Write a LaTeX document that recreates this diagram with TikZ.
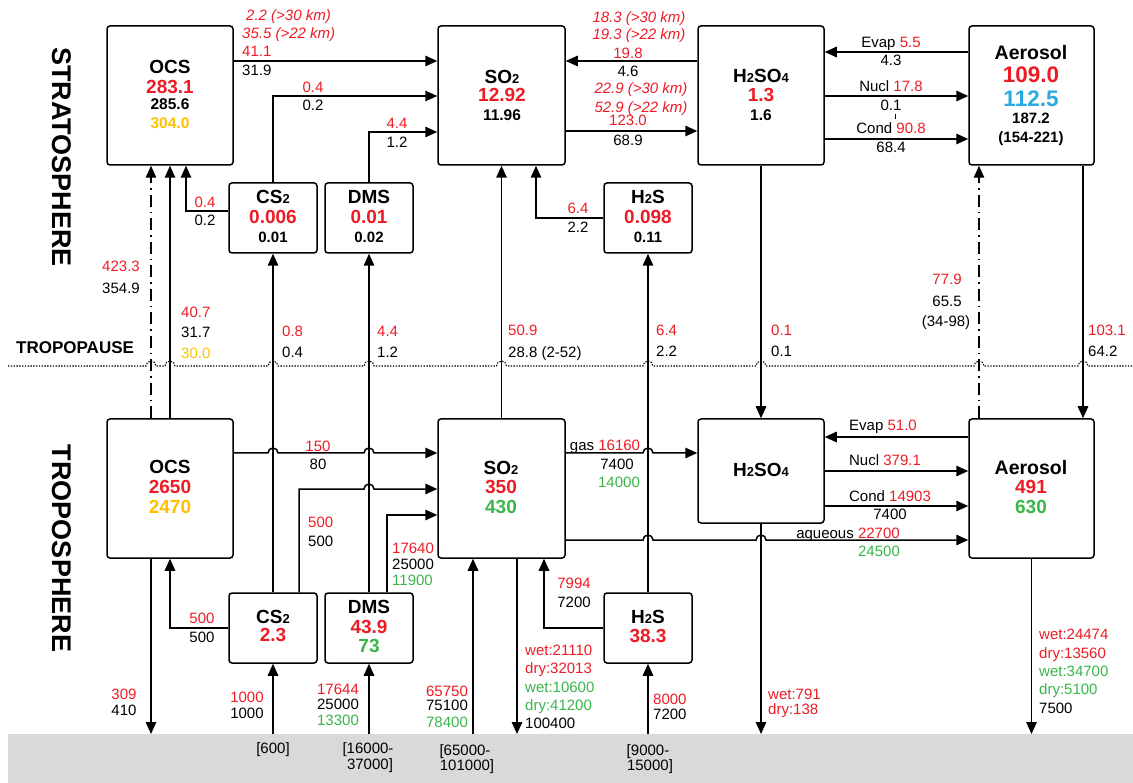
\documentclass[tikz,border=0pt]{standalone}
\usepackage{fontspec}
\setmainfont{Liberation Sans}
\usetikzlibrary{arrows.meta}
\definecolor{cR}{RGB}{237,28,36}
\definecolor{cG}{RGB}{57,181,74}
\definecolor{cO}{RGB}{255,192,0}
\definecolor{cB}{RGB}{41,171,226}
\definecolor{cGr}{RGB}{217,217,217}
\newcounter{nc}
\newcommand\Lb[5][]{\stepcounter{nc}\node[anchor=base,inner sep=0pt,font=\fontsize{#4}{#4}\selectfont,#1] (n\arabic{nc}) at ({#2},{#3+0.358*#4}) {#5};}
\newcommand\sbx[1]{{\fontsize{13}{13}\selectfont #1}}
\tikzset{
  box/.style={draw, line width=1.5pt, rounded corners=3pt, inner sep=0pt},
  arr/.style={line width=1.5pt, -{Triangle[length=12pt,width=10.5pt]}},
  dashdot/.style={line width=1.3pt, dash pattern=on 12pt off 5pt on 1.5pt off 5pt},
  trop/.style={line width=1.1pt, dash pattern=on 1.4pt off 1.4pt},
}
\begin{document}
\begin{tikzpicture}[x=1pt,y=-1pt]
\path[use as bounding box] (0,0) rectangle (1133,783);
% ground
\node[fill=cGr, minimum width=1125pt, minimum height=49pt, inner sep=0pt, anchor=north west] (gnd) at (8,734) {};
% tropopause
\draw[trop] (8,366) -- (146,366) arc[start angle=180,end angle=360,radius=5]
  -- (165,366) arc[start angle=180,end angle=360,radius=5]
  -- (268,366) arc[start angle=180,end angle=360,radius=5]
  -- (364,366) arc[start angle=180,end angle=360,radius=5]
  -- (496.5,366) arc[start angle=180,end angle=360,radius=5]
  -- (643,366) arc[start angle=180,end angle=360,radius=5]
  -- (756,366) arc[start angle=180,end angle=360,radius=5]
  -- (974,366) arc[start angle=180,end angle=360,radius=5]
  -- (1078,366) arc[start angle=180,end angle=360,radius=5]
  -- (1133,366);
% boxes stratosphere
\node[box, minimum width=126pt, minimum height=139pt] (ocsS) at (170,95.5) {};
\node[box, minimum width=127pt, minimum height=139pt] (so2S) at (501.5,95.5) {};
\node[box, minimum width=126pt, minimum height=139pt] (h2so4S) at (761,95.5) {};
\node[box, minimum width=125pt, minimum height=139pt] (aerS) at (1031.5,95.5) {};
\node[box, minimum width=88pt, minimum height=70pt] (cs2S) at (273,218) {};
\node[box, minimum width=88pt, minimum height=70pt] (dmsS) at (369,218) {};
\node[box, minimum width=88pt, minimum height=70pt] (h2sS) at (648,218) {};
% boxes troposphere
\node[box, minimum width=126pt, minimum height=139pt] (ocsT) at (170,488.5) {};
\node[box, minimum width=127pt, minimum height=139pt] (so2T) at (501.5,488.5) {};
\node[box, minimum width=126pt, minimum height=104pt] (h2so4T) at (761,471) {};
\node[box, minimum width=125pt, minimum height=139pt] (aerT) at (1031.5,488.5) {};
\node[box, minimum width=88pt, minimum height=70pt] (cs2T) at (273,628) {};
\node[box, minimum width=88pt, minimum height=70pt] (dmsT) at (369,628) {};
\node[box, minimum width=88pt, minimum height=70pt] (h2sT) at (648,628) {};
% stratosphere connectors
\draw[arr] (ocsS.east |- 0,61) -- (so2S.west |- 0,61);
\draw[arr] (cs2S.north) |- (so2S.west |- 0,96);
\draw[arr] (dmsS.north) |- (so2S.west |- 0,132);
\draw[arr] (cs2S.west |- 0,211) -| (ocsS.south -| 186,0);
\draw[arr] (h2so4S.west |- 0,61) -- (so2S.east |- 0,61);
\draw[arr] (so2S.east |- 0,131) -- (h2so4S.west |- 0,131);
\draw[arr] (h2sS.west |- 0,218) -| (so2S.south -| 536,0);
\draw[arr] (aerS.west |- 0,52) -- (h2so4S.east |- 0,52);
\draw[arr] (h2so4S.east |- 0,96) -- (aerS.west |- 0,96);
\draw[arr] (h2so4S.east |- 0,139) -- (aerS.west |- 0,139);
\draw[line width=0.6pt] (895,114) -- (895,119);
% cross-tropopause connectors
\draw[arr,dashdot] (ocsT.north -| 151,0) -- (ocsS.south -| 151,0);
\draw[arr] (ocsT.north) -- (ocsS.south);
\draw[arr] (cs2T.north) -- (cs2S.south);
\draw[arr] (dmsT.north) -- (dmsS.south);
\draw[arr] (so2T.north) -- (so2S.south);
\draw[arr] (h2sT.north) -- (h2sS.south);
\draw[arr] (h2so4S.south) -- (h2so4T.north);
\draw[arr,dashdot] (aerT.north -| 979,0) -- (aerS.south -| 979,0);
\draw[arr] (aerS.south -| 1083,0) -- (aerT.north -| 1083,0);
% troposphere connectors
\draw[arr] (ocsT.east |- 0,453) -- (268,453) arc[start angle=180,end angle=360,radius=5]
  -- (364,453) arc[start angle=180,end angle=360,radius=5] -- (so2T.west |- 0,453);
\draw[arr] (cs2T.north -| 299,0) |- (364,489) arc[start angle=180,end angle=360,radius=5] -- (so2T.west |- 0,489);
\draw[arr] (dmsT.north -| 387,0) |- (so2T.west |- 0,515);
\draw[arr] (cs2T.west |- 0,628) -| (ocsT.south);
\draw[arr] (ocsT.south -| 151,0) -- (gnd.north -| 151,0);
\draw[arr] (gnd.north -| cs2T.south) -- (cs2T.south);
\draw[arr] (gnd.north -| dmsT.south) -- (dmsT.south);
\draw[arr] (gnd.north -| 473,0) -- (so2T.south -| 473,0);
\draw[arr] (so2T.south -| 517,0) -- (gnd.north -| 517,0);
\draw[arr] (h2sT.west |- 0,628) -| (so2T.south -| 544,0);
\draw[arr] (gnd.north -| h2sT.south) -- (h2sT.south);
\draw[arr] (so2T.east |- 0,453) -- (643,453) arc[start angle=180,end angle=360,radius=5] -- (h2so4T.west |- 0,453);
\draw[arr] (so2T.east |- 0,540) -- (643,540) arc[start angle=180,end angle=360,radius=5]
  -- (756,540) arc[start angle=180,end angle=360,radius=5] -- (aerT.west |- 0,540);
\draw[arr] (aerT.west |- 0,437) -- (h2so4T.east |- 0,437);
\draw[arr] (h2so4T.east |- 0,471) -- (aerT.west |- 0,471);
\draw[arr] (h2so4T.east |- 0,506) -- (aerT.west |- 0,506);
\draw[arr] (h2so4T.south) -- (gnd.north -| h2so4T.south);
\draw[arr] (aerT.south) -- (gnd.north -| aerT.south);
% side titles
\node[rotate=-90, font=\bfseries\fontsize{27}{27}\selectfont, inner sep=0pt] (strat) at (62,157) {STRATOSPHERE};
\node[rotate=-90, font=\bfseries\fontsize{27}{27}\selectfont, inner sep=0pt] (tropo) at (62,548.5) {TROPOSPHERE};
\Lb[anchor=base west]{16}{347}{17}{\bfseries TROPOPAUSE}
% box texts stratosphere
\Lb{170}{67}{19}{\bfseries OCS}
\Lb[cR]{170}{87}{19}{\bfseries 283.1}
\Lb{170}{104}{15.5}{\bfseries 285.6}
\Lb[cO]{170}{123}{15.5}{\bfseries 304.0}
\Lb{502}{77}{19}{\bfseries SO\sbx{2}}
\Lb[cR]{502}{95}{19}{\bfseries 12.92}
\Lb{502}{115}{15.5}{\bfseries 11.96}
\Lb{761}{76}{19}{\bfseries H\sbx{2}SO\sbx{4}}
\Lb[cR]{761}{95}{19}{\bfseries 1.3}
\Lb{761}{115}{15.5}{\bfseries 1.6}
\Lb{1031}{53}{19.5}{\bfseries Aerosol}
\Lb[cR]{1031}{74}{22.5}{\bfseries 109.0}
\Lb[cB]{1031}{98}{22.5}{\bfseries 112.5}
\Lb{1031}{118}{15}{\bfseries 187.2}
\Lb{1031}{137}{15}{\bfseries (154-221)}
\Lb{273}{197}{19}{\bfseries CS\sbx{2}}
\Lb[cR]{273}{217}{19}{\bfseries 0.006}
\Lb{273}{237}{15}{\bfseries 0.01}
\Lb{369}{197}{19}{\bfseries DMS}
\Lb[cR]{369}{217}{19}{\bfseries 0.01}
\Lb{369}{237}{15}{\bfseries 0.02}
\Lb{648}{197}{19}{\bfseries H\sbx{2}S}
\Lb[cR]{648}{217}{19}{\bfseries 0.098}
\Lb{648}{237}{15}{\bfseries 0.11}
% box texts troposphere
\Lb{170}{467}{19}{\bfseries OCS}
\Lb[cR]{170}{487}{19}{\bfseries 2650}
\Lb[cO]{170}{507}{19}{\bfseries 2470}
\Lb{501}{468}{19}{\bfseries SO\sbx{2}}
\Lb[cR]{501}{487}{19}{\bfseries 350}
\Lb[cG]{501}{507}{19}{\bfseries 430}
\Lb{761}{470}{19}{\bfseries H\sbx{2}SO\sbx{4}}
\Lb{1031}{468}{19.5}{\bfseries Aerosol}
\Lb[cR]{1031}{487}{19}{\bfseries 491}
\Lb[cG]{1031}{507}{19}{\bfseries 630}
\Lb{273}{617}{19}{\bfseries CS\sbx{2}}
\Lb[cR]{273}{635}{19}{\bfseries 2.3}
\Lb{369}{607}{19}{\bfseries DMS}
\Lb[cR]{369}{627}{19}{\bfseries 43.9}
\Lb[cG]{369}{646}{19}{\bfseries 73}
\Lb{648}{617}{19}{\bfseries H\sbx{2}S}
\Lb[cR]{648}{636}{19}{\bfseries 38.3}
% stratosphere labels
\Lb[anchor=base west,cR]{246}{15}{15}{\itshape 2.2 (>30 km)}
\Lb[anchor=base west,cR]{242}{33}{15}{\itshape 35.5 (>22 km)}
\Lb[anchor=base west,cR]{242}{51}{15}{41.1}
\Lb[anchor=base west]{242}{70}{15}{31.9}
\Lb[cR]{313}{87}{15}{0.4}
\Lb{313}{105}{15}{0.2}
\Lb[cR]{397}{123}{15}{4.4}
\Lb{397}{142}{15}{1.2}
\Lb[cR]{205}{202}{15}{0.4}
\Lb{205}{220}{15}{0.2}
\Lb[cR]{639}{17}{15}{\itshape 18.3 (>30 km)}
\Lb[cR]{639}{34}{15}{\itshape 19.3 (>22 km)}
\Lb[cR]{628}{53}{15}{19.8}
\Lb{628}{71}{15}{4.6}
\Lb[cR]{641}{88}{15}{\itshape 22.9 (>30 km)}
\Lb[cR]{641}{107}{15}{\itshape 52.9 (>22 km)}
\Lb[cR]{628}{120}{15}{123.0}
\Lb{628}{140}{15}{68.9}
\Lb[cR]{578}{208}{15}{6.4}
\Lb{578}{227}{15}{2.2}
\Lb{891}{42}{15}{Evap \textcolor{cR}{5.5}}
\Lb{891}{60}{15}{4.3}
\Lb{891}{86}{15}{Nucl \textcolor{cR}{17.8}}
\Lb{891}{105}{15}{0.1}
\Lb{891}{128}{15}{Cond \textcolor{cR}{90.8}}
\Lb{891}{147}{15}{68.4}
% cross-tropopause labels
\Lb[cR]{121}{266}{15}{423.3}
\Lb{121}{288}{15}{354.9}
\Lb[anchor=base west,cR]{181}{312}{15}{40.7}
\Lb[anchor=base west]{181}{332}{15}{31.7}
\Lb[anchor=base west,cO]{181}{353}{15}{30.0}
\Lb[anchor=base west,cR]{282}{331}{15}{0.8}
\Lb[anchor=base west]{282}{352}{15}{0.4}
\Lb[anchor=base west,cR]{377}{331}{15}{4.4}
\Lb[anchor=base west]{377}{352}{15}{1.2}
\Lb[anchor=base west,cR]{508}{330}{15}{50.9}
\Lb[anchor=base west]{508}{352}{15}{28.8 (2-52)}
\Lb[anchor=base west,cR]{656}{330}{15}{6.4}
\Lb[anchor=base west]{656}{351}{15}{2.2}
\Lb[anchor=base west,cR]{771}{330}{15}{0.1}
\Lb[anchor=base west]{771}{351}{15}{0.1}
\Lb[cR]{947}{279}{15}{77.9}
\Lb{947}{301}{15}{65.5}
\Lb{946}{321}{15}{(34-98)}
\Lb[anchor=base west,cR]{1088}{330}{15}{103.1}
\Lb[anchor=base west]{1088}{351}{15}{64.2}
% troposphere labels
\Lb[cR]{318}{446}{15}{150}
\Lb{318}{464}{15}{80}
\Lb[anchor=base west,cR]{308}{522}{15}{500}
\Lb[anchor=base west]{308}{541}{15}{500}
\Lb[anchor=base west,cR]{392}{548}{15}{17640}
\Lb[anchor=base west]{392}{564}{15}{25000}
\Lb[anchor=base west,cG]{392}{580}{15}{11900}
\Lb[cR]{202}{618}{15}{500}
\Lb{202}{637}{15}{500}
\Lb[cR]{247}{697}{15}{1000}
\Lb{247}{713}{15}{1000}
\Lb[cR]{338}{689}{15}{17644}
\Lb{338}{704}{15}{25000}
\Lb[cG]{338}{720}{15}{13300}
\Lb[cR]{447}{691}{15}{65750}
\Lb{447}{705}{15}{75100}
\Lb[cG]{447}{722}{15}{78400}
\Lb[anchor=base west,cR]{525}{650}{15}{wet:21110}
\Lb[anchor=base west,cR]{525}{668}{15}{dry:32013}
\Lb[anchor=base west,cG]{525}{687}{15}{wet:10600}
\Lb[anchor=base west,cG]{525}{705}{15}{dry:41200}
\Lb[anchor=base west]{525}{723}{15}{100400}
\Lb[cR]{574}{583}{15}{7994}
\Lb{574}{602}{15}{7200}
\Lb[anchor=base west,cR]{653}{699}{15}{8000}
\Lb[anchor=base west]{653}{714}{15}{7200}
\Lb[cR]{124}{694}{15}{309}
\Lb{124}{710}{15}{410}
\Lb{605}{445}{15}{gas \textcolor{cR}{16160}}
\Lb{617}{464}{15}{7400}
\Lb[cG]{619}{482}{15}{14000}
\Lb{883}{425}{15}{Evap \textcolor{cR}{51.0}}
\Lb{885}{460}{15}{Nucl \textcolor{cR}{379.1}}
\Lb{890}{496}{15}{Cond \textcolor{cR}{14903}}
\Lb{890}{514}{15}{7400}
\Lb{848}{533}{15}{aqueous \textcolor{cR}{22700}}
\Lb[cG]{879}{551}{15}{24500}
\Lb[anchor=base west,cR]{768}{694}{15}{wet:791}
\Lb[anchor=base west,cR]{768}{709}{15}{dry:138}
\Lb[anchor=base west,cR]{1039}{634}{15}{wet:24474}
\Lb[anchor=base west,cR]{1039}{653}{15}{dry:13560}
\Lb[anchor=base west,cG]{1039}{671}{15}{wet:34700}
\Lb[anchor=base west,cG]{1039}{689}{15}{dry:5100}
\Lb[anchor=base west]{1039}{708}{15}{7500}
% ground labels
\Lb{273}{748}{15}{[600]}
\Lb{368}{748}{15}{[16000-}
\Lb{370}{764}{15}{37000]}
\Lb{465}{750}{15}{[65000-}
\Lb{467}{765}{15}{101000]}
\Lb{648}{750}{15}{[9000-}
\Lb{650}{765}{15}{15000]}
\end{tikzpicture}
\end{document}
